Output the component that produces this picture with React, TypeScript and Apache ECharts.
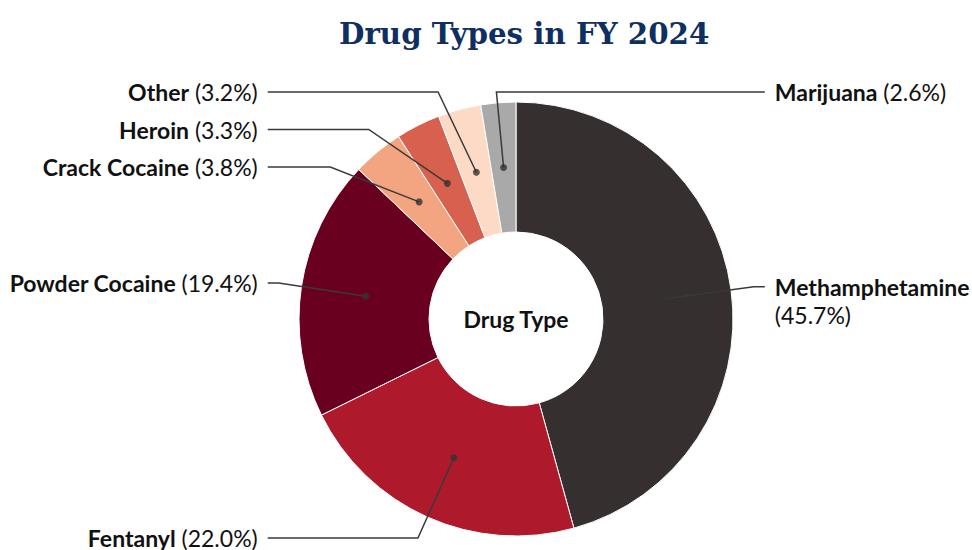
import React, { useEffect, useRef } from 'react';
import * as echarts from 'echarts';

const categories = ['Methamphetamine', 'Fentanyl', 'Powder Cocaine', 'Crack Cocaine', 'Heroin', 'Other', 'Marijuana'];
const shares = [45.7, 22.0, 19.4, 3.8, 3.3, 3.2, 2.6];
const colors = ['#352f2f', '#ae1a2c', '#690020', '#f2a580', '#d7604f', '#fddac6', '#a9a9a9'];
const wrappedLabels = ['Methamphetamine'];
const titleText = 'Drug Types in FY 2024';
const centerLabel = 'Drug Type';

const W = 972;
const H = 550;
const CX = 516;
const CY = 319;
const R_IN = 87;
const R_OUT = 217;
const R_MID = (R_IN + R_OUT) / 2;
const LINE_LEN = 88;
const LEN2 = 11;
const DIST = 10;
const GAP = 37.5;
const MIN_Y = 92;
const LINE_H = 28;
const FONT = 23;

type Item = {
  dx: number; dy: number; side: number;
  dotX: number; dotY: number; natX: number; natY: number;
  y: number; bendX: number; endX: number;
};

function computeLayout(): Item[] {
  const total = shares.reduce((a, b) => a + b, 0);
  const rBend = R_MID + LINE_LEN;
  let acc = 0;
  const items: Item[] = shares.map((v) => {
    const m = (acc + v / 2) / total;
    acc += v;
    const a = m * Math.PI * 2;
    const dx = Math.sin(a);
    const dy = -Math.cos(a);
    const side = dx >= -0.15 ? 1 : -1;
    return {
      dx, dy, side,
      dotX: CX + R_MID * dx, dotY: CY + R_MID * dy,
      natX: CX + rBend * dx, natY: CY + rBend * dy,
      y: 0, bendX: 0, endX: 0,
    };
  });
  [1, -1].forEach((side) => {
    const list = items.filter((it) => it.side === side).sort((a, b) => a.natY - b.natY);
    let prev = -Infinity;
    list.forEach((it) => {
      it.y = Math.max(it.natY, prev + GAP, MIN_Y);
      prev = it.y;
      const ddy = it.y - CY;
      it.bendX = Math.sign(it.dx) === side
        ? CX + side * Math.sqrt(Math.max(0, rBend * rBend - ddy * ddy))
        : it.natX;
    });
    const endX = side > 0
      ? Math.max(...list.map((it) => it.bendX)) + LEN2
      : Math.min(...list.map((it) => it.bendX)) - LEN2;
    list.forEach((it) => { it.endX = endX; });
  });
  return items;
}

export default function App() {
  const ref = useRef<HTMLDivElement>(null);
  useEffect(() => {
    const chart = echarts.init(ref.current!, null, { renderer: 'svg' });
    const total = shares.reduce((a, b) => a + b, 0);
    let acc = 0;
    const mids = shares.map((v) => {
      const m = acc + v / 2;
      acc += v;
      return (m / total) * 100;
    });
    const layout = computeLayout();
    const pieData = categories.map((name, i) => ({ name, value: shares[i], itemStyle: { color: colors[i] } }));
    const base = { fontFamily: 'Lato', fontSize: FONT, color: '#111' };
    const richFor = (lh: number) => ({
      b: { ...base, lineHeight: lh, fontWeight: 'bold' },
      p: { ...base, lineHeight: lh },
    });
    const labelData = categories.map((name, i) => {
      const wrapped = wrappedLabels.indexOf(name) >= 0;
      const lh = wrapped ? LINE_H : FONT;
      return {
        name,
        value: shares[i],
        label: { lineHeight: lh, rich: richFor(lh) },
      };
    });
    chart.setOption({
      animation: false,
      title: {
        text: titleText,
        left: 334,
        top: 14,
        textStyle: { fontFamily: 'DejaVu Serif', fontWeight: 'bold', fontSize: 29.3, color: '#0f2f63' },
      },
      polar: { center: [CX, CY], radius: [0, R_OUT] },
      angleAxis: { type: 'value', min: 0, max: 100, startAngle: 90, clockwise: true, show: false },
      radiusAxis: { type: 'value', min: 0, max: R_OUT, show: false },
      series: [
        {
          type: 'pie',
          center: [CX, CY],
          radius: [R_IN, R_OUT],
          startAngle: 90,
          clockwise: true,
          silent: true,
          data: pieData,
          itemStyle: { borderColor: '#ffffff', borderWidth: 1 },
          label: { show: false },
          labelLine: { show: false },
          z: 1,
        },
        {
          type: 'pie',
          center: [CX, CY],
          radius: [R_IN, R_OUT],
          startAngle: 90,
          clockwise: true,
          silent: true,
          avoidLabelOverlap: false,
          data: labelData,
          itemStyle: { color: 'rgba(0,0,0,0)', borderWidth: 0 },
          label: {
            show: true,
            position: 'outside',
            ...base,
            lineHeight: FONT,
            formatter: (p: any) => {
              const pct = `(${Number(p.value).toFixed(1)}%)`;
              const sep = wrappedLabels.indexOf(p.name) >= 0 ? '\n' : ' ';
              return `{b|${p.name}}${sep}{p|${pct}}`;
            },
            rich: richFor(FONT),
          },
          labelLine: {
            show: true,
            length: 20,
            length2: 10,
            smooth: false,
            lineStyle: { color: '#3a3a3a', width: 1.5 },
          },
          labelLayout: (params: any) => {
            const it = layout[params.dataIndex];
            const wrapped = wrappedLabels.indexOf(categories[params.dataIndex]) >= 0;
            return {
              x: it.endX + it.side * DIST,
              y: wrapped ? it.y - LINE_H / 2 : it.y,
              align: it.side > 0 ? 'left' : 'right',
              verticalAlign: wrapped ? 'top' : 'middle',
              labelLinePoints: [
                [it.dotX, it.dotY],
                [it.bendX, it.y],
                [it.endX, it.y],
              ],
            };
          },
          z: 3,
        },
        {
          type: 'scatter',
          coordinateSystem: 'polar',
          silent: true,
          data: mids.map((m) => [R_MID, m]),
          symbol: 'circle',
          symbolSize: 7,
          itemStyle: { color: '#333333' },
          z: 4,
        },
      ],
      graphic: [
        {
          type: 'text',
          x: CX,
          y: CY,
          z: 10,
          style: {
            text: centerLabel,
            align: 'center',
            verticalAlign: 'middle',
            fontFamily: 'Lato',
            fontWeight: 'bold',
            fontSize: FONT,
            fill: '#111',
          },
        },
      ],
    });
    return () => chart.dispose();
  }, []);
  return <div ref={ref} style={{ position: 'fixed', left: 0, top: 0, width: W, height: H, background: '#fff' }} />;
}
